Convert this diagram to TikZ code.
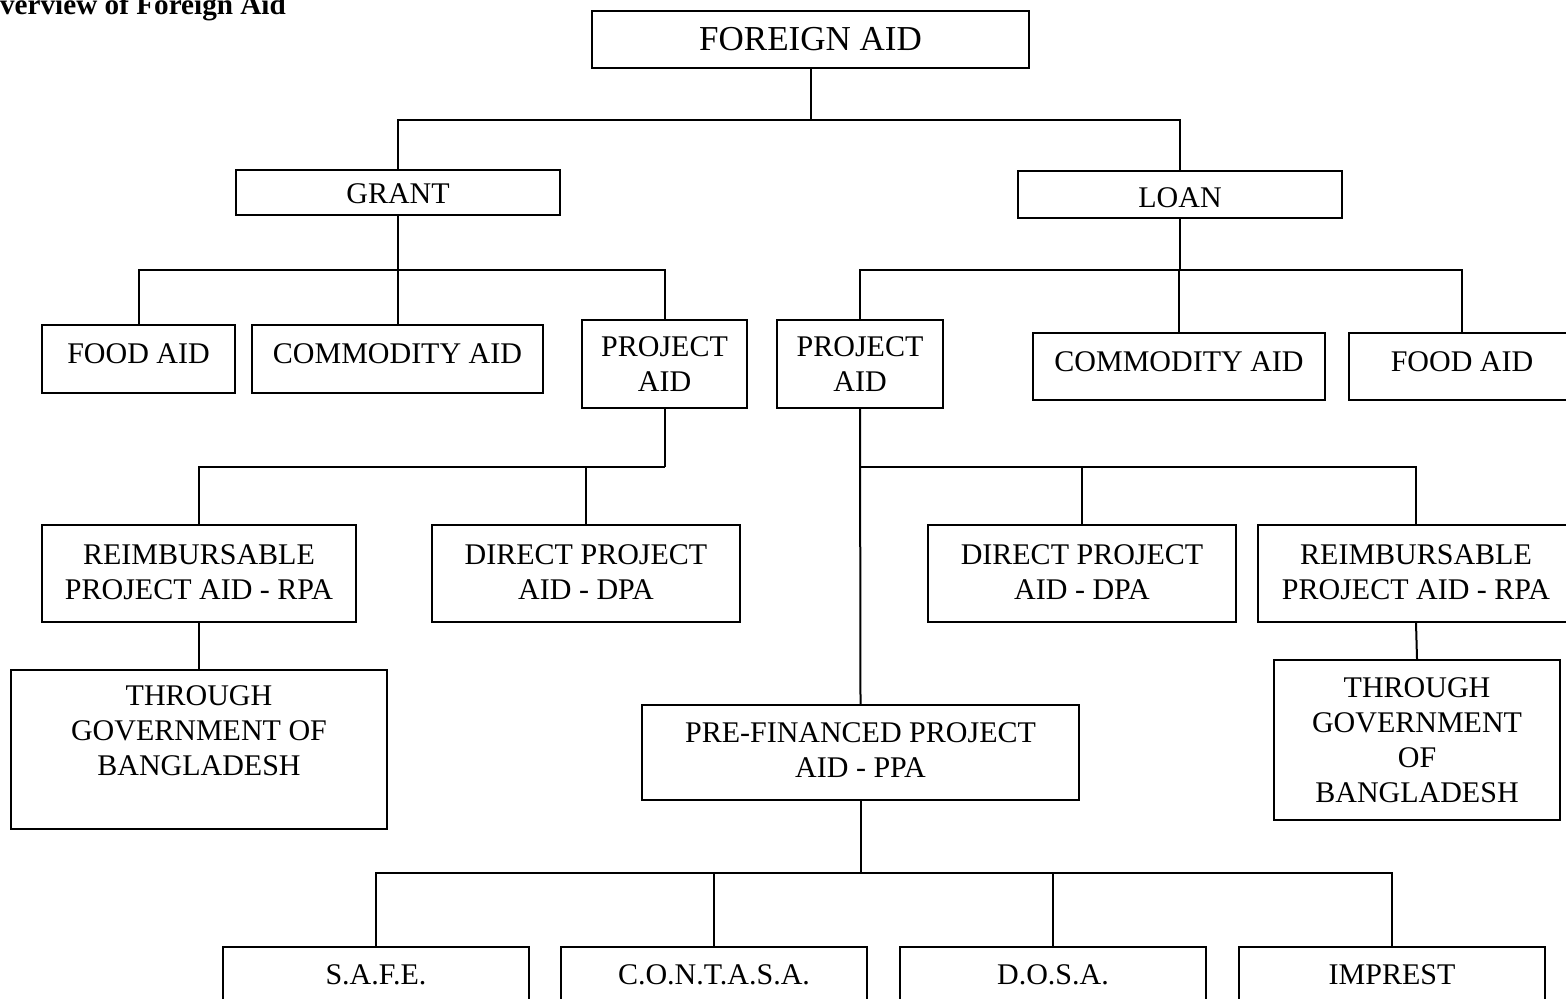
\documentclass[tikz,border=0pt]{standalone}
\usepackage{fontspec}
\setmainfont{Liberation Serif}

% \aidbox{name}{x1}{y1}{x2}{y2}{text centre y}{text}
\newcommand\aidbox[7]{%
  \node[aidframe, minimum width={(#4-#2)*0.5pt}, minimum height={(#5-#3)*0.5pt}]
    (#1) at ({(#2+#4)/2},{(#3+#5)/2}) {};
  \node[aidtext] (#1-t) at ({(#2+#4)/2},#6) {#7};%
}

\begin{document}
\begin{tikzpicture}[x=0.5pt,y=-0.5pt,
  aidframe/.style={draw, line width=1pt, inner sep=0pt},
  aidtext/.style={inner sep=0pt, align=center, font=\fontsize{15pt}{17.5pt}\selectfont},
  link/.style={line width=1pt}]

\useasboundingbox (0,0) rectangle (1566,998);
\clip (0,0) rectangle (1566,998);

% title
\node[anchor=base west, inner sep=0pt, font=\fontsize{14.6pt}{17pt}\selectfont\bfseries]
  (title) at (-23,14) {Overview of Foreign Aid};

% level 0 and 1
\aidbox{fa}{592}{11}{1029}{68}{39}{\fontsize{17.5pt}{21pt}\selectfont FOREIGN AID}
\aidbox{grant}{236}{170}{560}{215}{194}{GRANT}
\aidbox{loan}{1018}{171}{1342}{218}{198}{LOAN}

% grant branch
\aidbox{gfood}{42}{325}{235}{393}{354}{FOOD AID}
\aidbox{gcomm}{252}{325}{543}{393}{354}{COMMODITY AID}
\aidbox{gproj}{582}{320}{747}{408}{364}{PROJECT\\AID}
\aidbox{grpa}{42}{525}{356}{622}{572}{REIMBURSABLE\\PROJECT AID - RPA}
\aidbox{gdpa}{432}{525}{740}{622}{572}{DIRECT PROJECT\\AID - DPA}
\aidbox{ggov}{11}{670}{387}{829}{731}{THROUGH\\GOVERNMENT OF\\BANGLADESH}

% loan branch
\aidbox{lproj}{777}{320}{943}{408}{364}{PROJECT\\AID}
\aidbox{lcomm}{1033}{333}{1325}{400}{362}{COMMODITY AID}
\aidbox{lfood}{1349}{333}{1575}{400}{362}{FOOD AID}
\aidbox{ldpa}{928}{525}{1236}{622}{572}{DIRECT PROJECT\\AID - DPA}
\aidbox{lrpa}{1258}{525}{1574}{622}{572}{REIMBURSABLE\\PROJECT AID - RPA}
\aidbox{lgov}{1274}{660}{1560}{820}{740}{THROUGH\\GOVERNMENT\\OF\\BANGLADESH}
\aidbox{ppa}{642}{705}{1079}{800}{750}{PRE-FINANCED PROJECT\\AID - PPA}

% pre-financed modes
\aidbox{safe}{223}{947}{529}{1040}{975}{S.A.F.E.}
\aidbox{contasa}{561}{947}{867}{1040}{975}{C.O.N.T.A.S.A.}
\aidbox{dosa}{900}{947}{1206}{1040}{975}{D.O.S.A.}
\aidbox{imprest}{1239}{947}{1545}{1040}{975}{IMPREST}

% bus points
\coordinate (busfa) at (fa.south |- 0,120);
\coordinate (busg) at (grant.south |- 0,270);
\coordinate (busl) at (loan.south |- 0,270);
\coordinate (busgp) at (gproj.south |- 0,467);
\coordinate (buslp) at (lproj.south |- 0,467);
\coordinate (busppa) at (ppa.south |- 0,873);

% connectors
\draw[link] (fa.south) -- (busfa);
\draw[link] (grant.north) |- (busfa) -| (loan.north);

\draw[link] (grant.south) -- (busg);
\draw[link] (gfood.north) |- (busg) -| (gproj.north);
\draw[link] (gcomm.north) -- (gcomm.north |- busg);

\draw[link] (loan.south) -- (busl);
\draw[link] (lproj.north) |- (busl) -| (lfood.north);
\draw[link] (lcomm.north) -- (lcomm.north |- busl);

\draw[link] (gproj.south) -- (busgp);
\draw[link] (grpa.north) |- (busgp);
\draw[link] (gdpa.north) -- (gdpa.north |- busgp);
\draw[link] (grpa.south) -- (ggov.north);

\draw[link] (lproj.south) -- (ppa.north);
\draw[link] (buslp) -| (lrpa.north);
\draw[link] (ldpa.north) -- (ldpa.north |- buslp);
\draw[link] (lrpa.south) -- (lgov.north);

\draw[link] (ppa.south) -- (busppa);
\draw[link] (safe.north) |- (busppa) -| (imprest.north);
\draw[link] (contasa.north) -- (contasa.north |- busppa);
\draw[link] (dosa.north) -- (dosa.north |- busppa);

\end{tikzpicture}
\end{document}
